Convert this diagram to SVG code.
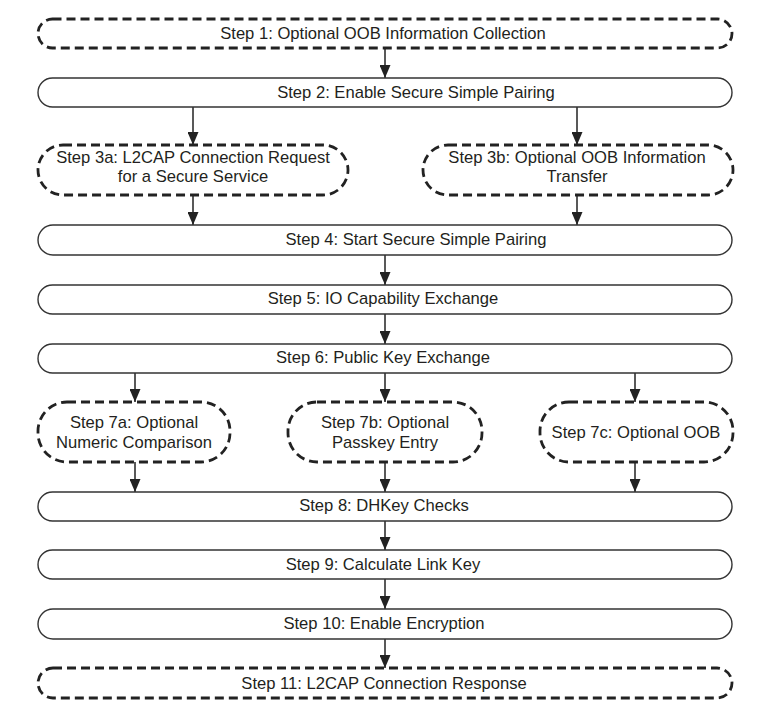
<svg xmlns="http://www.w3.org/2000/svg" width="762" height="714" viewBox="0 0 762 714">
<style>
.solid{fill:#fff;stroke:#333;stroke-width:1.4}
.dash{fill:#fff;stroke:#222;stroke-width:2.8;stroke-dasharray:9 5}
text{font-family:"Liberation Sans",Arial,sans-serif;font-size:16.6px;fill:#231f20;text-anchor:middle}
.conn line{stroke:#222;stroke-width:1.5}
</style>
<defs>
<marker id="ah" markerUnits="userSpaceOnUse" markerWidth="13" markerHeight="11" refX="13" refY="5.5" orient="auto">
<path d="M0,0 L13,5.5 L0,11 z" fill="#222"/>
</marker>
</defs>
<rect width="762" height="714" fill="#fff"/>
<g class="conn">
<line x1="385" y1="48" x2="385" y2="78" marker-end="url(#ah)"/>
<line x1="193" y1="107" x2="193" y2="145" marker-end="url(#ah)"/>
<line x1="577" y1="107" x2="577" y2="145" marker-end="url(#ah)"/>
<line x1="193" y1="195" x2="193" y2="225" marker-end="url(#ah)"/>
<line x1="577" y1="195" x2="577" y2="225" marker-end="url(#ah)"/>
<line x1="385" y1="255" x2="385" y2="285" marker-end="url(#ah)"/>
<line x1="385" y1="314" x2="385" y2="344" marker-end="url(#ah)"/>
<line x1="135" y1="373" x2="135" y2="402" marker-end="url(#ah)"/>
<line x1="385" y1="373" x2="385" y2="402" marker-end="url(#ah)"/>
<line x1="635" y1="373" x2="635" y2="402" marker-end="url(#ah)"/>
<line x1="135" y1="462" x2="135" y2="492" marker-end="url(#ah)"/>
<line x1="385" y1="462" x2="385" y2="492" marker-end="url(#ah)"/>
<line x1="635" y1="462" x2="635" y2="492" marker-end="url(#ah)"/>
<line x1="385" y1="521" x2="385" y2="550" marker-end="url(#ah)"/>
<line x1="385" y1="579" x2="385" y2="609" marker-end="url(#ah)"/>
<line x1="385" y1="639" x2="385" y2="668" marker-end="url(#ah)"/>
</g>
<g id="step1"><rect class="dash" x="38" y="19" width="694" height="29" rx="14.5"/><text x="383" y="39">Step 1: Optional OOB Information Collection</text></g>
<g id="step2"><rect class="solid" x="38" y="78" width="694" height="29" rx="14.5"/><text x="416" y="98">Step 2: Enable Secure Simple Pairing</text></g>
<g id="step3a"><rect class="dash" x="38" y="145" width="310" height="50" rx="25"/><text x="193" y="163">Step 3a: L2CAP Connection Request</text><text x="193" y="182">for a Secure Service</text></g>
<g id="step3b"><rect class="dash" x="423" y="145" width="310" height="50" rx="25"/><text x="577" y="163">Step 3b: Optional OOB Information</text><text x="577" y="182">Transfer</text></g>
<g id="step4"><rect class="solid" x="38" y="225" width="694" height="30" rx="15"/><text x="416" y="245">Step 4: Start Secure Simple Pairing</text></g>
<g id="step5"><rect class="solid" x="38" y="285" width="694" height="29" rx="14.5"/><text x="383" y="304">Step 5: IO Capability Exchange</text></g>
<g id="step6"><rect class="solid" x="38" y="344" width="694" height="29" rx="14.5"/><text x="383" y="363">Step 6: Public Key Exchange</text></g>
<g id="step7a"><rect class="dash" x="38" y="402" width="192" height="60" rx="29"/><text x="134" y="428">Step 7a: Optional</text><text x="134" y="448">Numeric Comparison</text></g>
<g id="step7b"><rect class="dash" x="288" y="402" width="194" height="60" rx="29"/><text x="385" y="428">Step 7b: Optional</text><text x="385" y="448">Passkey Entry</text></g>
<g id="step7c"><rect class="dash" x="540" y="402" width="193" height="60" rx="29"/><text x="636" y="438">Step 7c: Optional OOB</text></g>
<g id="step8"><rect class="solid" x="38" y="492" width="694" height="29" rx="14.5"/><text x="384" y="511">Step 8: DHKey Checks</text></g>
<g id="step9"><rect class="solid" x="38" y="550" width="694" height="29" rx="14.5"/><text x="383" y="570">Step 9: Calculate Link Key</text></g>
<g id="step10"><rect class="solid" x="38" y="609" width="694" height="30" rx="15"/><text x="384" y="629">Step 10: Enable Encryption</text></g>
<g id="step11"><rect class="dash" x="38" y="668" width="694" height="30" rx="15"/><text x="384" y="689">Step 11: L2CAP Connection Response</text></g>
</svg>
